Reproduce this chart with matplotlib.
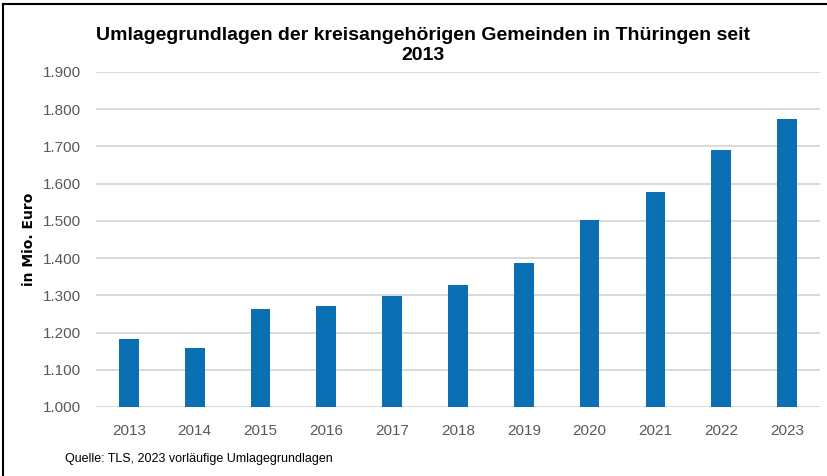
import matplotlib.pyplot as plt
from matplotlib.lines import Line2D

plt.rcParams['font.family'] = ['Liberation Sans Narrow', 'Liberation Sans', 'DejaVu Sans']

# Data (in Mio. Euro)
years = ['2013', '2014', '2015', '2016', '2017', '2018', '2019', '2020', '2021', '2022', '2023']
values = [1182, 1158, 1262, 1272, 1299, 1327, 1386, 1503, 1578, 1691, 1773]
yticks = [1000, 1100, 1200, 1300, 1400, 1500, 1600, 1700, 1800, 1900]
ytick_labels = ['1.000', '1.100', '1.200', '1.300', '1.400', '1.500', '1.600', '1.700', '1.800', '1.900']

fig = plt.figure(figsize=(8.27, 4.76), dpi=100)
ax = fig.add_axes([0.116, 0.145, 0.8755, 0.704])

x = range(len(years))
ax.bar(x, values, width=0.3, color='#0B6FB4', zorder=3)

ax.set_xlim(-0.5, len(years) - 0.5)
ax.set_ylim(1000, 1900)
ax.set_yticks(yticks)
ax.set_yticklabels(ytick_labels)
ax.set_xticks(list(x))
ax.set_xticklabels(years)

ax.grid(axis='y', color='#D9D9D9', linewidth=1.4, zorder=0)
for s in ax.spines.values():
    s.set_visible(False)
ax.axhline(1000, color='#D9D9D9', linewidth=1.4, zorder=1)
ax.tick_params(axis='both', length=0, colors='#595959', labelsize=11)
ax.tick_params(axis='y', pad=11)
ax.tick_params(axis='x', pad=12)

ax.set_ylabel('in Mio. Euro', fontsize=10, fontweight='bold',
              family=['DejaVu Sans'], labelpad=5)

fig.text(0.511, 0.905, 'Umlagegrundlagen der kreisangehörigen Gemeinden in Thüringen seit\n2013',
         ha='center', va='center', fontsize=14, fontweight='bold', linespacing=1.2)
fig.text(0.079, 0.036, 'Quelle: TLS, 2023 vorläufige Umlagegrundlagen', fontsize=9, va='center')

# frame around the figure
fig.add_artist(Line2D([0.004, 1.0], [0.991, 0.991], color='black', linewidth=1.5, transform=fig.transFigure))
fig.add_artist(Line2D([0.004, 0.004], [0.0, 0.991], color='black', linewidth=1.5, transform=fig.transFigure))

fig.savefig('out.png', dpi=100)
